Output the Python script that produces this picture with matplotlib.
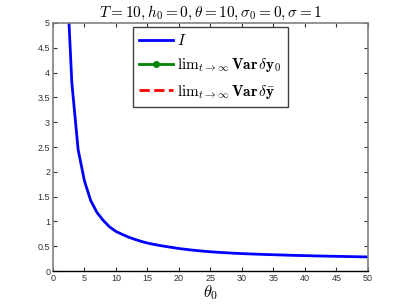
import numpy as np
import matplotlib
matplotlib.use('Agg')
import matplotlib.pyplot as plt

plt.rcParams['mathtext.fontset'] = 'cm'
plt.rcParams['font.family'] = ['Liberation Sans', 'DejaVu Sans']

# theta_0 sample points and the I curve
theta0 = list(range(2, 51))
I_vals = [6.5, 3.8, 2.45, 1.82, 1.42, 1.18, 1.02, 0.89, 0.80,
          0.74, 0.685, 0.64, 0.60, 0.565, 0.54, 0.515, 0.495, 0.475, 0.455,
          0.44, 0.425, 0.412, 0.40, 0.39, 0.381, 0.373, 0.366, 0.359, 0.353,
          0.348, 0.343, 0.338, 0.334, 0.33, 0.326, 0.322, 0.318, 0.315, 0.312,
          0.309, 0.306, 0.303, 0.30, 0.298, 0.295, 0.293, 0.29, 0.288, 0.286]
# the two variance series do not show inside the plotted range
var_y0_theta, var_y0 = [], []
var_ybar_theta, var_ybar = [], []

xticks = list(range(0, 51, 5))
yticks = [0, 0.5, 1, 1.5, 2, 2.5, 3, 3.5, 4, 4.5, 5]
ytick_labels = ['0', '0.5', '1', '1.5', '2', '2.5', '3', '3.5', '4', '4.5', '5']

fig = plt.figure(figsize=(4.07, 3.06), dpi=100)
ax = fig.add_axes([0.130, 0.114, 0.774, 0.811])

ax.plot(theta0, I_vals, color='#0000ff', lw=2, label=r'$I$')
ax.plot(var_y0_theta, var_y0, color='#008000', lw=2, marker='o', ms=4,
        label=r'$\mathrm{lim}_{t\to\infty}\,\mathbf{Var}\,\delta\mathbf{y}_\mathbf{0}$')
ax.plot(var_ybar_theta, var_ybar, color='#ff0000', lw=2, ls='--',
        label=r'$\mathrm{lim}_{t\to\infty}\,\mathbf{Var}\,\delta\bar{\mathbf{y}}$')

ax.set_xlim(0, 50)
ax.set_ylim(0, 5)
ax.set_xticks(xticks)
ax.set_xticklabels([str(t) for t in xticks])
ax.set_yticks(yticks)
ax.set_yticklabels(ytick_labels)
ax.tick_params(direction='in', length=3, width=0.8, labelsize=6.5,
               top=True, right=True, pad=2, colors='#333333')
for s in ['left', 'top', 'right']:
    ax.spines[s].set_color('#808080')
    ax.spines[s].set_linewidth(1.2)
ax.spines['bottom'].set_color('black')
ax.spines['bottom'].set_linewidth(1.0)

ax.set_title(r'$T=10, h_0=0, \theta=10, \sigma_0=0, \sigma=1$', fontsize=11, pad=4)
ax.set_xlabel(r'$\theta_0$', fontsize=12, labelpad=0)

leg = ax.legend(loc='upper left', bbox_to_anchor=(0.254, 0.984), borderaxespad=0,
                fontsize=11, fancybox=False, framealpha=1, handlelength=2.2,
                handletextpad=0.3, borderpad=0.4, labelspacing=0.55)
leg.get_frame().set_edgecolor('#404040')
leg.get_frame().set_linewidth(1.0)

fig.savefig('out.png', dpi=100)
